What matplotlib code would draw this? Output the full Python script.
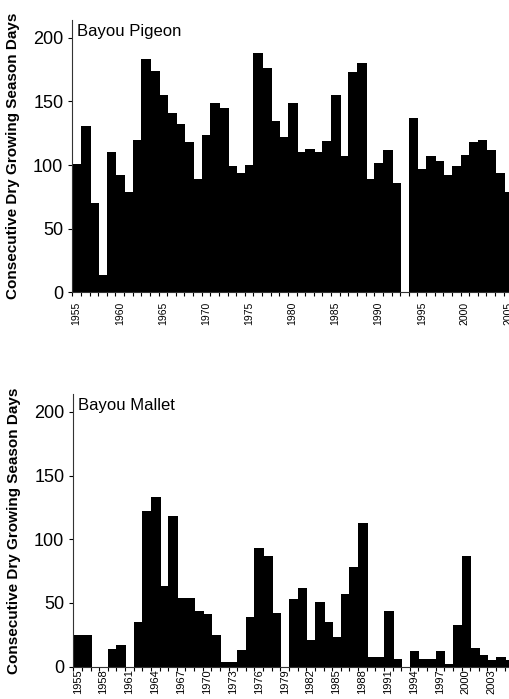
import numpy as np
import matplotlib
matplotlib.use('Agg')
import matplotlib.pyplot as plt

plt.rcParams['font.family'] = ['Liberation Sans', 'DejaVu Sans']

# annees de 1955 a 2005
years = np.arange(1955, 2006)
# jours secs consecutifs (1993 = pas de donnees)
pigeon = [101, 131, 70, 14, 110, 92, 79, 120, 183, 174,
          155, 141, 132, 118, 89, 124, 149, 145, 99, 94,
          100, 188, 176, 135, 122, 149, 110, 113, 110, 119,
          155, 107, 173, 180, 89, 102, 112, 86, 0, 137,
          97, 107, 103, 92, 99, 108, 118, 120, 112, 94,
          79]
mallet = [25, 25, 0, 0, 14, 17, 0, 35, 122, 133,
          63, 118, 54, 54, 44, 41, 25, 4, 3.5, 13,
          39, 93, 87, 42, 0, 53, 62, 21, 51, 35,
          23, 57, 78, 113, 8, 8, 44, 6, 0, 12,
          6, 6, 12, 2, 33, 87, 15, 9, 5.5, 7.5,
          5]
yticks = [0, 50, 100, 150, 200]
ylabel = 'Consecutive Dry Growing Season Days'

fig = plt.figure(figsize=(5.09, 6.99), dpi=100)

panels = [
    ('Bayou Pigeon', pigeon, [0.1420, 0.5818, 0.8645, 0.3896], 5, 7.5, 6.8),
    ('Bayou Mallet', mallet, [0.1440, 0.0462, 0.8645, 0.3901], 3, 8, 2),
]

for name, values, pos, step, lsize, lpad in panels:
    ax = fig.add_axes(pos)
    ax.bar(years, values, width=1.0, color='black', edgecolor='black',
           linewidth=0.4, antialiased=False)
    ax.set_xlim(years[0] - 0.5, years[-1] + 0.5)
    ax.set_ylim(0, 214)
    ax.set_yticks(yticks)
    ax.tick_params(axis='y', labelsize=13, length=3, width=0.8, pad=3.5)
    # labels au centre des barres, petits traits entre les categories
    ax.set_xticks(years[::step])
    ax.set_xticklabels([str(y) for y in years[::step]], rotation=90, fontsize=lsize)
    ax.set_xticks(np.arange(years[0] - 0.5, years[-1] + 1), minor=True)
    ax.tick_params(axis='x', which='major', length=0, pad=lpad)
    ax.tick_params(axis='x', which='minor', length=3.2, width=0.8)
    for side in ['top', 'right']:
        ax.spines[side].set_visible(False)
    for side in ['left', 'bottom']:
        ax.spines[side].set_color('#333333')
        ax.spines[side].set_linewidth(0.8)
    ax.set_ylabel(ylabel, fontsize=11, fontweight='bold')
    ax.yaxis.set_label_coords(-0.118, 0.5)
    ax.text(0.011, 0.985, name, transform=ax.transAxes, fontsize=12, va='top', ha='left')

fig.savefig('out.png', dpi=100)
